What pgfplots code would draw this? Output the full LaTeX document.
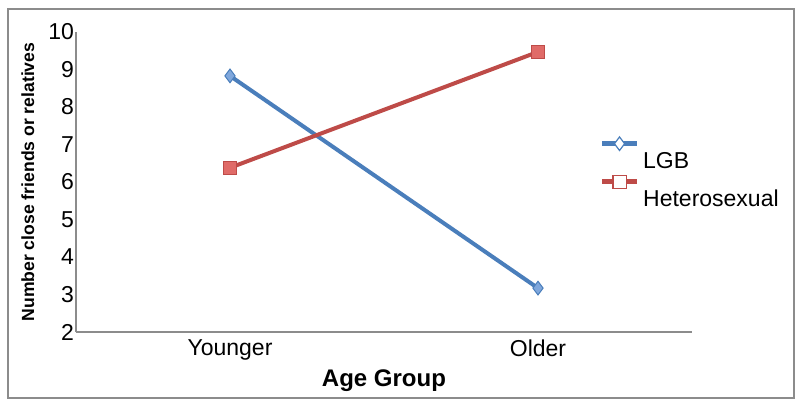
\documentclass[border=0pt]{standalone}
\usepackage{pgfplots}
\pgfplotsset{compat=1.18}
\usepackage{fontspec}
\setmainfont{Liberation Sans}

\definecolor{lgbblue}{HTML}{4A7EBB}
\definecolor{lgbfill}{HTML}{7FA7DC}
\definecolor{hetred}{HTML}{BE4B48}
\definecolor{hetfill}{HTML}{E06B68}
\definecolor{axgray}{HTML}{8C8C8C}

\begin{document}
\begin{tikzpicture}
  % 1px of the reference = 0.5pt
  \useasboundingbox (-38pt,-38.5pt) rectangle (362pt,166pt);
  \draw[axgray, line width=0.7pt] (-34pt,-33pt) rectangle (359pt,161.5pt);
  \begin{axis}[
      at={(0,0)}, anchor=south west,
      scale only axis,
      width=308pt, height=150pt,
      xmin=0, xmax=2,
      ymin=2, ymax=10,
      xtick={0.5,1.5},
      xticklabels={Younger,Older},
      ytick={2,3,4,5,6,7,8,9,10},
      major tick length=0pt,
      axis x line*=bottom,
      axis y line*=left,
      axis line style={axgray, line width=0.8pt, -},
      /pgf/number format/assume math mode=true,
      ticklabel style={font=\fontsize{11.5}{13}\selectfont},
      yticklabel style={xshift=2.5pt},
      xticklabel style={yshift=-0.5pt},
      xlabel={\textbf{Age Group}},
      xlabel style={font=\fontsize{12}{14}\selectfont, at={(axis description cs:0.5,-0.163)}, anchor=center},
      ylabel={\textbf{Number close friends or relatives}},
      ylabel style={font=\fontsize{8.8}{10}\selectfont, at={(axis description cs:-0.078,0.5)}, anchor=center},
      clip=false,
      legend style={at={(0.84,0.665)}, anchor=north west, draw=none, fill=none,
        font=\fontsize{11.5}{13}\selectfont, row sep=0pt,
        /tikz/every even column/.append style={column sep=0pt}},
      legend cell align=left,
      legend image post style={yshift=9pt, line width=2.6pt, mark options={fill=white, line width=0.6pt}},
    ]
    \addplot[lgbblue, line width=2pt, mark=diamond*,
      mark options={fill=lgbfill, draw=lgbblue, line width=0.5pt}, mark size=3.4pt]
      coordinates {(0.5,8.83) (1.5,3.17)};
    \addlegendentry{LGB}
    \addplot[hetred, line width=2pt, mark=square*,
      mark options={fill=hetfill, draw=hetred, line width=0.5pt}, mark size=3.3pt]
      coordinates {(0.5,6.38) (1.5,9.47)};
    \addlegendentry{Heterosexual}
  \end{axis}
\end{tikzpicture}
\end{document}
